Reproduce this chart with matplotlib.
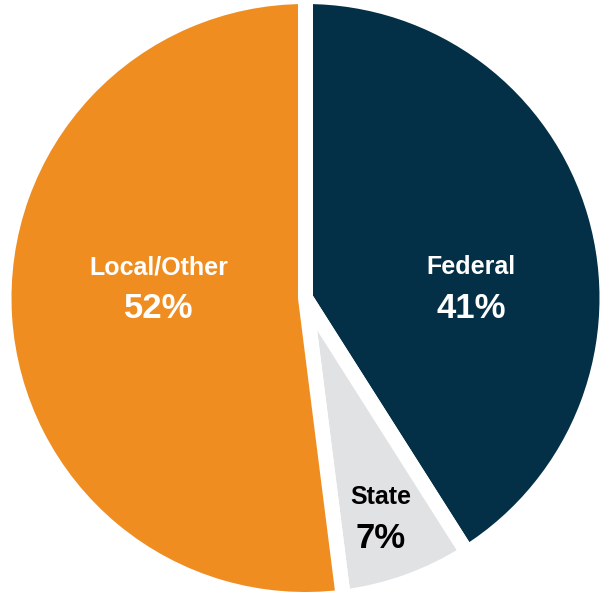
import matplotlib.pyplot as plt

plt.rcParams['font.family'] = ['Liberation Sans', 'DejaVu Sans']

labels = ['Federal', 'State', 'Local/Other']
shares = [41, 7, 52]
colors = ['#033046', '#e1e2e4', '#ef8d21']
text_colors = ['white', 'black', 'white']

# label positions in px (x, y from top) of the reference image
label_pos = [(471, 287), (381, 517), (159, 287)]

W, H = 602, 595
cx, cy = 305.5, 298.0
R = 301.5  # px

fig = plt.figure(figsize=(W / 100, H / 100), dpi=100)
ax = fig.add_axes([0, 0, 1, 1])
ax.pie(shares, colors=colors, startangle=90, counterclock=False, radius=1,
       wedgeprops=dict(edgecolor='white', linewidth=10.8))
ax.set_xlim(-cx / R, (W - cx) / R)
ax.set_ylim(-(H - cy) / R, cy / R)
ax.set_aspect('equal')
ax.axis('off')

for lab, val, tc, (px, py) in zip(labels, shares, text_colors, label_pos):
    x = (px - cx) / R
    y = (cy - py) / R
    ax.text(x, y + 20 / R, lab, color=tc, fontsize=18, fontweight='bold',
            ha='center', va='center')
    ax.text(x, y - 21 / R, f'{val}%', color=tc, fontsize=25, fontweight='bold',
            ha='center', va='center')

fig.savefig('out.png', dpi=100)
